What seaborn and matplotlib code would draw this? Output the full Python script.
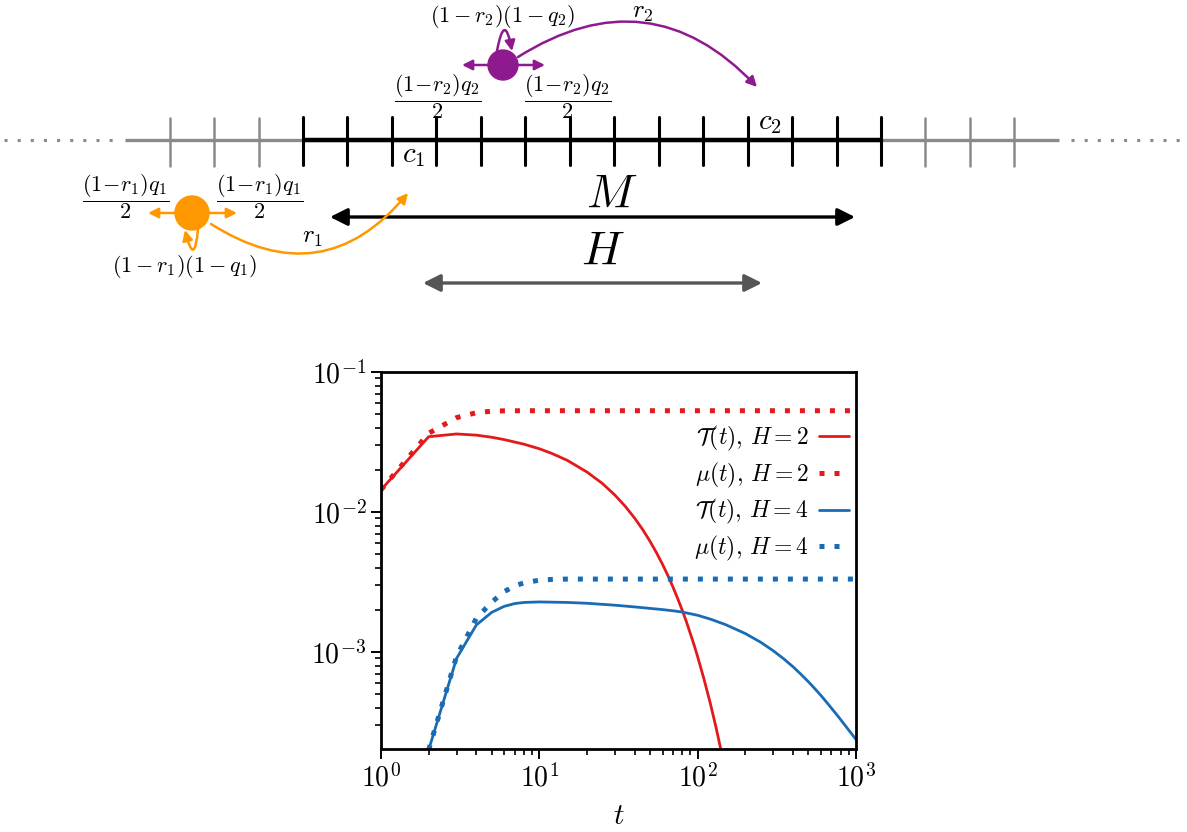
import seaborn as sns
import matplotlib.pyplot as plt
from matplotlib.patches import Circle

# values
t_T2 = [1, 2, 3, 4, 5, 6, 8, 10, 12, 15, 20, 25, 30, 35, 40, 45, 50, 55, 60,
        65, 70, 75, 80, 85, 90, 95, 100, 110, 120, 130, 140, 150]
T_H2 = [0.0144, 0.0345, 0.0361, 0.0354, 0.0342, 0.0329, 0.0305, 0.0283,
        0.0262, 0.0234, 0.0193, 0.0160, 0.01322, 0.01093, 0.00904, 0.00748,
        0.00618, 0.00511, 0.00423, 0.00350, 0.00289, 0.00239, 0.00198,
        0.00164, 0.00135, 0.00112, 0.000925, 0.000632, 0.000433, 0.000296,
        0.000202, 0.000138]

t_mu2 = [1, 2, 3, 4, 5, 6, 8, 10, 20, 50, 100, 200, 500, 1000]
mu_H2 = [0.0144, 0.0365, 0.0472, 0.0512, 0.0525, 0.0528, 0.0529, 0.0529,
         0.0529, 0.0529, 0.0529, 0.0529, 0.0529, 0.0529]

t_T4 = [2, 3, 4, 5, 6, 7, 8, 10, 15, 20, 30, 40, 50, 60, 70, 80, 100, 120,
        150, 200, 250, 300, 350, 400, 450, 500, 550, 600, 650, 700, 750, 800,
        850, 900, 950, 1000]
T_H4 = [2.0e-4, 9.0e-4, 1.56e-3, 1.92e-3, 2.12e-3, 2.22e-3, 2.26e-3, 2.28e-3,
        2.26e-3, 2.23e-3, 2.16e-3, 2.10e-3, 2.05e-3, 2.01e-3, 1.97e-3,
        1.93e-3, 1.83e-3, 1.72e-3, 1.57e-3, 1.355e-3, 1.175e-3, 1.022e-3,
        8.93e-4, 7.85e-4, 6.92e-4, 6.14e-4, 5.47e-4, 4.90e-4, 4.40e-4,
        3.97e-4, 3.61e-4, 3.29e-4, 3.01e-4, 2.77e-4, 2.56e-4, 2.37e-4]

t_mu4 = [2, 3, 4, 5, 6, 7, 8, 10, 12, 15, 20, 50, 100, 200, 500, 1000]
mu_H4 = [2.0e-4, 9.3e-4, 1.74e-3, 2.27e-3, 2.70e-3, 2.97e-3, 3.12e-3, 3.26e-3,
         3.30e-3, 3.32e-3, 3.32e-3, 3.32e-3, 3.32e-3, 3.32e-3, 3.32e-3, 3.32e-3]

legend_labels = [r'$\mathcal{T}(t)$, $H=2$', r'$\mu(t)$, $H=2$',
                 r'$\mathcal{T}(t)$, $H=4$', r'$\mu(t)$, $H=4$']

# lattice for the sketch (pixel units of the figure)
n_black = 14
n_gray = 3
site0 = 303
spacing = 44.46
line_y = 140

red = '#e3191c'
blue = '#1a6bb5'
orange = '#ff9800'
purple = '#8e1a8e'
gray = '#8a8a8a'

sns.set_style('ticks')
plt.rcParams['font.family'] = 'serif'
plt.rcParams['font.serif'] = ['cmr10', 'DejaVu Serif']
plt.rcParams['mathtext.fontset'] = 'cm'
plt.rcParams['axes.formatter.use_mathtext'] = True
plt.rcParams['axes.unicode_minus'] = False
for key in ['axes.edgecolor', 'xtick.color', 'ytick.color', 'text.color',
            'axes.labelcolor']:
    plt.rcParams[key] = 'black'

W, Hh = 1187, 832
fig = plt.figure(figsize=(W / 100, Hh / 100), dpi=100)

# ---- sketch of the lattice, drawn in pixel coordinates
sk = fig.add_axes([0, 0, 1, 1])
sk.set_xlim(0, W)
sk.set_ylim(Hh, 0)
sk.axis('off')

black_x = [site0 + spacing * k for k in range(n_black)]
left_gray = [site0 - spacing * k for k in range(n_gray, 0, -1)]
right_gray = [black_x[-1] + spacing * k for k in range(1, n_gray + 1)]
gl0 = left_gray[0] - spacing
gr1 = right_gray[-1] + spacing

sk.plot([gl0, gr1], [line_y, line_y], color=gray, lw=2.4, solid_capstyle='butt')
sk.plot([black_x[0], black_x[-1]], [line_y, line_y], color='black', lw=3.2,
        solid_capstyle='butt')
for x in black_x:
    sk.plot([x, x], [117, 165], color='black', lw=2.2)
for x in left_gray + right_gray:
    sk.plot([x, x], [118, 166], color=gray, lw=1.8)
sk.plot([4, gl0 - 12], [line_y, line_y], color=gray, lw=2.2, ls=(0, (1, 3.3)))
sk.plot([gr1 + 12, W], [line_y, line_y], color=gray, lw=2.2, ls=(0, (1, 3.3)))

sk.text(414, 156, r'$c_1$', fontsize=21, ha='center', va='center')
sk.text(770, 123, r'$c_2$', fontsize=21, ha='center', va='center')


def arrow(a, b, color, style='-|>', lw=1.8, rad=0.0, ms=15):
    sk.annotate('', xy=b, xytext=a,
                arrowprops=dict(arrowstyle=style, color=color, lw=lw,
                                mutation_scale=ms, shrinkA=0, shrinkB=0,
                                connectionstyle=f'arc3,rad={rad}'))


# system size arrows
arrow((330, 217), (855, 217), 'black', style='<|-|>', lw=2.4, ms=26)
arrow((423, 283), (762, 283), '#555555', style='<|-|>', lw=2.4, ms=26)
sk.text(612, 195, r'$M$', fontsize=34, ha='center', va='center')
sk.text(603, 252, r'$H$', fontsize=34, ha='center', va='center')

# walker 1 (orange)
sk.add_patch(Circle((192, 213), 17, color=orange, zorder=3))
arrow((178, 213), (148, 213), orange)
arrow((206, 213), (237, 213), orange)
arrow((198, 229), (185, 230), orange, rad=-3)
arrow((211, 224), (408, 193), orange, rad=0.44)
frac1 = r'$\dfrac{(1\!-\!r_1)q_1}{2}$'
frac2 = r'$\dfrac{(1\!-\!r_2)q_2}{2}$'
sk.text(126, 197, frac1, fontsize=16, ha='center', va='center')
sk.text(260, 197, frac1, fontsize=16, ha='center', va='center')
sk.text(185, 267, r'$(1-r_1)(1-q_1)$', fontsize=16, ha='center', va='center')
sk.text(312, 238, r'$r_1$', fontsize=18, ha='center', va='center')

# walker 2 (purple)
sk.add_patch(Circle((503, 65), 15, color=purple, zorder=3))
arrow((490, 65), (462, 65), purple)
arrow((516, 65), (545, 65), purple)
arrow((497, 51), (512, 51), purple, rad=-2.7)
arrow((518, 57), (757, 87), purple, rad=-0.41)
sk.text(438, 97, frac2, fontsize=16, ha='center', va='center')
sk.text(568, 97, frac2, fontsize=16, ha='center', va='center')
sk.text(503, 17, r'$(1-r_2)(1-q_2)$', fontsize=16, ha='center', va='center')
sk.text(643, 13, r'$r_2$', fontsize=18, ha='center', va='center')

# ---- the log-log plot
ax = fig.add_axes([381 / W, (Hh - 749) / Hh, 475 / W, (749 - 372) / Hh])
dots = (0, (1, 2))
sns.lineplot(x=t_T2, y=T_H2, ax=ax, color=red, lw=2.0, label=legend_labels[0])
sns.lineplot(x=t_mu2, y=mu_H2, ax=ax, color=red, lw=3.6, ls=dots, label=legend_labels[1])
sns.lineplot(x=t_T4, y=T_H4, ax=ax, color=blue, lw=2.0, label=legend_labels[2])
sns.lineplot(x=t_mu4, y=mu_H4, ax=ax, color=blue, lw=3.6, ls=dots, label=legend_labels[3])

ax.set(xscale='log', yscale='log')
ax.set_xlim(1, 1000)
ax.set_ylim(2.03e-4, 1e-1)
ax.set_xlabel(r'$t$', fontsize=21, labelpad=8)
ax.set_ylabel('')
for s in ax.spines.values():
    s.set_linewidth(2.0)
ax.tick_params(which='major', length=7, width=1.4, labelsize=20, direction='out')
ax.tick_params(which='minor', length=4, width=1.2, direction='out')

ax.legend(loc='upper right', bbox_to_anchor=(849 / W, 1 - 424 / Hh),
          bbox_transform=fig.transFigure, frameon=False, markerfirst=False,
          fontsize=17, handlelength=1.25, handletextpad=0.45,
          labelspacing=0.32, borderpad=0, borderaxespad=0)

fig.savefig('out.png', dpi=100)
